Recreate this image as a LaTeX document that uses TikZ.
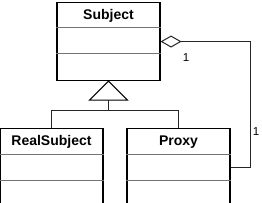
\documentclass[tikz,border=0pt]{standalone}
\usepackage{fontspec}
\setmainfont{Liberation Sans}
\usetikzlibrary{positioning, calc, arrows.meta}

\tikzset{
  classbox/.style={draw, line width=1.1pt, minimum width=103pt, minimum height=78pt, anchor=north, inner sep=0pt},
  classname/.style={font=\fontsize{14}{16}\selectfont\bfseries, anchor=center},
  divider/.style={line width=1pt, black!55},
  link/.style={line width=1pt, black!85},
  mult/.style={font=\fontsize{11.5}{13}\selectfont, inner sep=0pt},
}

\begin{document}
\begin{tikzpicture}[x=1pt, y=-1pt]
    \useasboundingbox (0,0) rectangle (262,203);

    % --- Classes ---
    \node[classbox] (sub)   at (108.5,2)   {};
    \node[classbox] (real)  at (51.5,128)  {};
    \node[classbox] (proxy) at (178.5,128) {};

    \node[classname] (subname)   at ($(sub.north)+(0,14)$)   {Subject};
    \node[classname] (realname)  at ($(real.north)+(0,14)$)  {RealSubject};
    \node[classname] (proxyname) at ($(proxy.north)+(0,14)$) {Proxy};

    % compartments
    \foreach \c in {sub, real, proxy} {
        \draw[divider] ([yshift=-26pt]\c.north west) -- ([yshift=-26pt]\c.north east);
        \draw[divider] ([yshift=-52pt]\c.north west) -- ([yshift=-52pt]\c.north east);
    }

    % --- Generalization ---
    \draw[line width=1pt] (sub.south) -- ++(-19,19) coordinate (tl) -- ++(38,0) -- cycle;
    \coordinate (tri) at ($(sub.south)+(0,19)$);
    \coordinate (bar) at ($(tri)+(0,10)$);
    \draw[link] (tri) -- (bar);
    \draw[link] (real.north) |- (bar) -| (proxy.north);

    % --- Aggregation ---
    \coordinate (turn) at (250,0);
    \draw[link, {Diamond[open, length=21pt, width=12pt, line width=1pt]}-] (sub.east) -- (sub.east -| turn) |- (proxy.east);

    \node[mult] (m1) at (186,58)  {1};
    \node[mult] (m2) at (256,132) {1};

\end{tikzpicture}
\end{document}
